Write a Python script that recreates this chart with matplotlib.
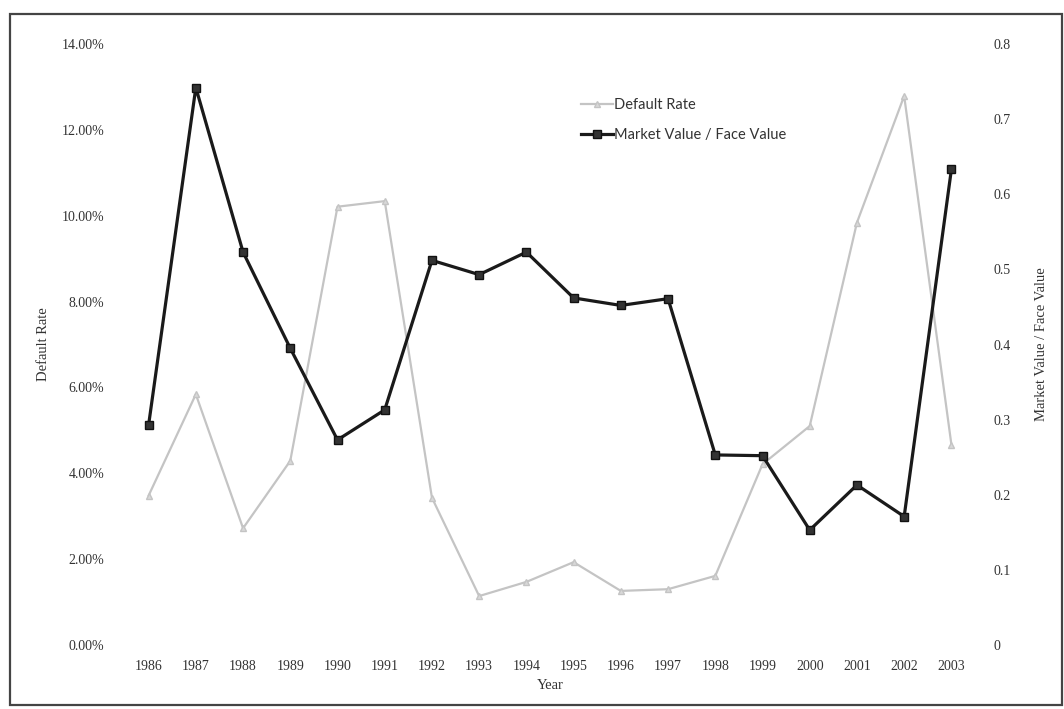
import numpy as np
import matplotlib
matplotlib.use("Agg")
import matplotlib.pyplot as plt
from matplotlib.patches import Rectangle
from matplotlib.ticker import FuncFormatter

# values
years = list(range(1986, 2004))
default_rate = [3.48, 5.84, 2.72, 4.29, 10.21, 10.34, 3.43, 1.14, 1.47, 1.93,
                1.26, 1.30, 1.61, 4.21, 5.10, 9.84, 12.79, 4.67]  # percent
mv_fv = [0.293, 0.742, 0.523, 0.395, 0.273, 0.313, 0.512, 0.493, 0.523, 0.462,
         0.452, 0.461, 0.253, 0.252, 0.153, 0.213, 0.171, 0.633]
left_ticks = [0, 2, 4, 6, 8, 10, 12, 14]
right_ticks = [0, 0.1, 0.2, 0.3, 0.4, 0.5, 0.6, 0.7, 0.8]

SERIF = "Liberation Serif"
TXT = "#333333"
W, H = 1064, 709

fig = plt.figure(figsize=(W / 100, H / 100), dpi=100)
ax = fig.add_axes([125 / W, 64 / H, 850 / W, 601 / H])
ax2 = ax.twinx()

ax.plot(years, default_rate, color="#c4c4c4", lw=1.6, marker="^", ms=5,
        markerfacecolor="#d8d8d8", markeredgecolor="#c4c4c4", label="Default Rate", zorder=2)
ax2.plot(years, mv_fv, color="#1a1a1a", lw=2.3, marker="s", ms=6,
         markerfacecolor="#333333", markeredgecolor="#111111",
         label="Market Value / Face Value", zorder=3)

ax.set_xlim(1985.5, 2003.5)
ax.set_ylim(0, 14)
ax2.set_ylim(0, 0.8)
ax.set_xticks(years)
ax.set_yticks(left_ticks)
ax2.set_yticks(right_ticks)
ax.yaxis.set_major_formatter(FuncFormatter(lambda v, p: f"{v:.2f}%"))
ax2.yaxis.set_major_formatter(FuncFormatter(lambda v, p: "0" if v == 0 else f"{v:.1f}"))

for a in (ax, ax2):
    for s in a.spines.values():
        s.set_visible(False)
    a.tick_params(length=0, labelsize=10, labelcolor=TXT)
    for lab in a.get_xticklabels() + a.get_yticklabels():
        lab.set_fontfamily(SERIF)
ax.tick_params(axis="y", pad=15)
ax.tick_params(axis="x", pad=11)
ax2.tick_params(axis="y", pad=13)

ax.set_ylabel("Default Rate", fontsize=10.5, color=TXT, family=SERIF, labelpad=8)
ax2.set_ylabel("Market Value / Face Value", fontsize=10.5, color=TXT, family=SERIF, labelpad=18)
ax.set_xlabel("Year", fontsize=10.5, color=TXT, family=SERIF, labelpad=4)

h1, l1 = ax.get_legend_handles_labels()
h2, l2 = ax2.get_legend_handles_labels()
ax2.legend(h1 + h2, l1 + l2, loc="upper left", bbox_to_anchor=(575 / W, 1 - 92 / H),
           bbox_transform=fig.transFigure, frameon=False, handlelength=2.2,
           handletextpad=0.1, labelspacing=1.1, borderaxespad=0,
           prop={"family": "Lato", "size": 10.5}, labelcolor=TXT)

# scanned-page frame around the chart
fig.patches.append(Rectangle((10 / W, 4 / H), 1052 / W, 691 / H, transform=fig.transFigure,
                             fill=False, lw=1.6, edgecolor="#444444"))

fig.savefig("out.png", dpi=100)
